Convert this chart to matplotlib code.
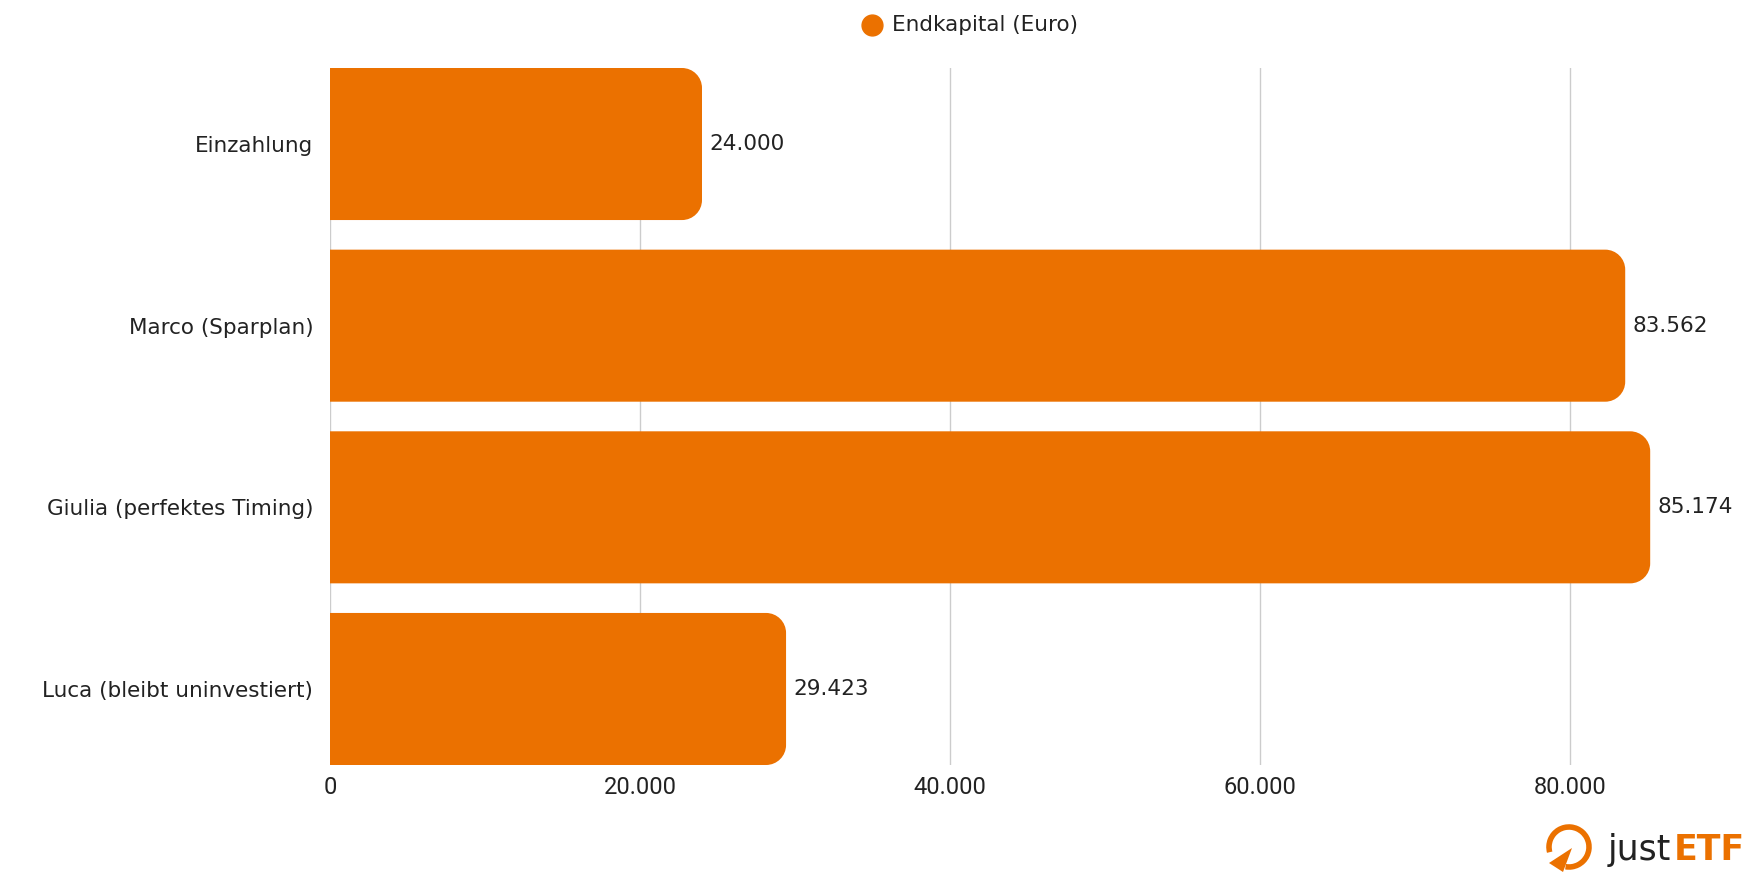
import numpy as np
import matplotlib.pyplot as plt
from matplotlib.path import Path
from matplotlib.patches import PathPatch, Arc, Polygon

# data
categories = ["Einzahlung", "Marco (Sparplan)", "Giulia (perfektes Timing)", "Luca (bleibt uninvestiert)"]
values = [24000, 83562, 85174, 29423]
value_labels = ["24.000", "83.562", "85.174", "29.423"]
xticks = [0, 20000, 40000, 60000, 80000]
xtick_labels = ["0", "20.000", "40.000", "60.000", "80.000"]
legend_label = "Endkapital (Euro)"

ORANGE = "#EB7100"
DARK = "#222222"
GRID = "#CCCCCC"
BAR_H = 0.837
RADIUS_PX = 20
FS = 15.5

plt.rcParams['font.family'] = ['DejaVu Sans']

fig = plt.figure(figsize=(17.5, 8.75), dpi=100)
ax = fig.add_axes([330 / 1750, 1 - 765 / 875, 1395 / 1750, 697 / 875])

ypos = np.arange(len(categories))
ax.set_xlim(0, 90000)
ax.set_ylim(len(categories) - 1 + BAR_H / 2, -BAR_H / 2)

# corner radius in data units
p0 = ax.transData.transform((0, 0))
p1 = ax.transData.transform((1, 1))
rx = RADIUS_PX / abs(p1[0] - p0[0])
ry = RADIUS_PX / abs(p1[1] - p0[1])
k = 0.5523

for y, w in zip(ypos, values):
    y0, y1 = y - BAR_H / 2, y + BAR_H / 2
    verts = [
        (0, y0), (w - rx, y0),
        (w - rx + k * rx, y0), (w, y0 + ry - k * ry), (w, y0 + ry),
        (w, y1 - ry),
        (w, y1 - ry + k * ry), (w - rx + k * rx, y1), (w - rx, y1),
        (0, y1), (0, y0),
    ]
    codes = [Path.MOVETO, Path.LINETO,
             Path.CURVE4, Path.CURVE4, Path.CURVE4,
             Path.LINETO,
             Path.CURVE4, Path.CURVE4, Path.CURVE4,
             Path.LINETO, Path.CLOSEPOLY]
    ax.add_patch(PathPatch(Path(verts, codes), facecolor=ORANGE, edgecolor='none', zorder=2))

for y, w, lab in zip(ypos, values, value_labels):
    ax.annotate(lab, (w, y), xytext=(5, 0), textcoords='offset points',
                va='center', ha='left', fontsize=FS, color=DARK)

ax.set_yticks(ypos)
ax.set_yticklabels(categories, fontsize=FS, color=DARK)
ax.set_xticks(xticks)
ax.set_xticklabels(xtick_labels, fontsize=17, color=DARK, family=['Roboto', 'DejaVu Sans'])
ax.tick_params(length=0)
ax.tick_params(axis='y', pad=12)
ax.tick_params(axis='x', pad=8)
for s in ax.spines.values():
    s.set_visible(False)
ax.grid(axis='x', color=GRID, linewidth=1, zorder=0)
ax.set_axisbelow(True)

# legend at the top
fig.lines.append(plt.Line2D([872 / 1750], [1 - 25 / 875], marker='o', markersize=15,
                            color=ORANGE, linestyle='none', transform=fig.transFigure, figure=fig))
fig.text(892 / 1750, 1 - 25 / 875, legend_label, fontsize=FS, color=DARK, va='center', ha='left')

# justETF logo, bottom right
lax = fig.add_axes([1540 / 1750, 0, 210 / 1750, 60 / 875])
lax.set_xlim(0, 210)
lax.set_ylim(0, 60)
lax.axis('off')
lax.add_patch(Arc((29, 28), 40, 40, theta1=-100, theta2=195, color=ORANGE, linewidth=4))
lax.add_patch(Polygon([(9, 12), (32, 27), (23, 3)], closed=True, facecolor=ORANGE, edgecolor='none'))
t = lax.text(68, 25, "just", fontsize=25, color=DARK, va='center', ha='left')
lax.annotate("ETF", xy=(1, 0.5), xycoords=t, xytext=(2, 0), textcoords='offset points',
             fontsize=25, color=ORANGE, va='center', ha='left', fontweight='bold')

fig.savefig("out.png", dpi=100)
